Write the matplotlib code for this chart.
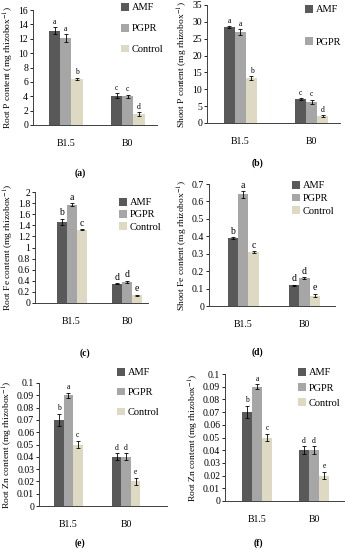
import matplotlib
matplotlib.use('Agg')
import matplotlib.pyplot as plt
from matplotlib.ticker import FuncFormatter
import numpy as np

plt.rcParams['font.family'] = ['Liberation Serif', 'DejaVu Serif']
plt.rcParams['mathtext.fontset'] = 'stix'

# data
groups = ['B1.5', 'B0']
treatments = ['AMF', 'PGPR', 'Control']
colors = ['#595959', '#a6a6a6', '#ddd9c3']

root_p = [[13.1, 4.1], [12.1, 4.0], [6.4, 1.5]]
root_p_err = [[0.5, 0.3], [0.5, 0.2], [0.2, 0.3]]
root_p_let = [['a', 'c'], ['a', 'c'], ['b', 'd']]

shoot_p = [[28.4, 7.0], [27.0, 6.2], [13.3, 2.0]]
shoot_p_err = [[0.3, 0.3], [0.8, 0.7], [0.6, 0.3]]
shoot_p_let = [['a', 'c'], ['a', 'c'], ['b', 'd']]

root_fe = [[1.46, 0.35], [1.77, 0.38], [1.32, 0.14]]
root_fe_err = [[0.06, 0.01], [0.03, 0.02], [0.01, 0.01]]
root_fe_let = [['b', 'd'], ['a', 'd'], ['c', 'e']]

shoot_fe = [[0.39, 0.12], [0.64, 0.16], [0.31, 0.06]]
shoot_fe_err = [[0.004, 0.003], [0.02, 0.005], [0.004, 0.01]]
shoot_fe_let = [['b', 'd'], ['a', 'd'], ['c', 'e']]

root_zn = [[0.07, 0.04], [0.09, 0.04], [0.05, 0.02]]
root_zn_err = [[0.005, 0.003], [0.002, 0.003], [0.003, 0.003]]
root_zn_let = [['b', 'd'], ['a', 'd'], ['c', 'e']]

W, H = 345, 550
fig = plt.figure(figsize=(W / 100, H / 100), dpi=100)


def px_axes(l, r, t, b):
    # 像素座標轉成 figure 比例
    return fig.add_axes([l / W, 1 - b / H, (r - l) / W, (b - t) / H])


def panel(box, xlim, width, vals, errs, lets, ymax, ystep, ylabel,
          tag, tag_xy, leg_xy, leg_space, leg_n=3, let_size=5.5):
    ax = px_axes(*box)
    x = np.arange(len(groups))
    bars = []
    for i in range(3):
        pos = x + (i - 1) * width
        b = ax.bar(pos, vals[i], width, color=colors[i], label=treatments[i],
                   yerr=errs[i], capsize=1.6,
                   error_kw=dict(elinewidth=0.6, capthick=0.6, ecolor='black'))
        bars.append(b)
        for p, v, e, l in zip(pos, vals[i], errs[i], lets[i]):
            ax.text(p, v + e + ymax * 0.012, l, ha='center', va='bottom',
                    fontsize=let_size)
    ax.set_xlim(*xlim)
    ax.set_ylim(0, ymax)
    ax.set_yticks(np.arange(0, ymax + ystep / 2, ystep))
    ax.yaxis.set_major_formatter(FuncFormatter(lambda v, p: f'{round(v, 4):g}'))
    ax.set_xticks(x)
    ax.set_xticklabels(groups)
    ax.tick_params(axis='x', length=0, pad=10, labelsize=7)
    ax.tick_params(axis='y', length=2, width=0.6, pad=1.5, labelsize=7)
    for s in ['top', 'right']:
        ax.spines[s].set_visible(False)
    for s in ['left', 'bottom']:
        ax.spines[s].set_linewidth(0.7)
        ax.spines[s].set_color('#404040')
    ax.set_ylabel(ylabel, fontsize=6.8, labelpad=1.5)
    ax.legend(handles=bars[:leg_n], loc='upper left',
              bbox_to_anchor=(leg_xy[0] / W, 1 - leg_xy[1] / H),
              bbox_transform=fig.transFigure, frameon=False, fontsize=7.5,
              handlelength=0.75, handleheight=0.75, handletextpad=0.3,
              labelspacing=leg_space, borderpad=0, borderaxespad=0)
    fig.text(tag_xy[0] / W, 1 - tag_xy[1] / H, tag, ha='center', va='center',
             fontsize=7, fontweight='bold')
    return ax


ylab = r'Root %s content (mg rhizobox$^{-1}$)'
ylab_s = r'Shoot %s content (mg rhizobox$^{-1}$)'

panel((33, 157, 10, 125), (-0.53, 1.47), 0.18, root_p, root_p_err, root_p_let,
      16, 2, ylab % 'P', '(a)', (80, 173), (121, 3), 1.1)
panel((207, 340, 5, 123), (-0.47, 1.4), 0.155, shoot_p, shoot_p_err, shoot_p_let,
      35, 5, ylab_s % 'P', '(b)', (257, 163), (305, 5), 2.2, leg_n=2)
panel((35, 148, 192, 303), (-0.66, 1.38), 0.18, root_fe, root_fe_err, root_fe_let,
      2, 0.2, ylab % 'Fe', '(c)', (85, 353), (119, 198), 0.25, let_size=7)
panel((209, 335, 184, 306), (-0.56, 1.5), 0.17, shoot_fe, shoot_fe_err, shoot_fe_let,
      0.7, 0.1, ylab_s % 'Fe', '(d)', (257, 352), (292, 181), 0.3, let_size=7)
panel((39, 167, 383, 506), (-0.51, 1.71), 0.165, root_zn, root_zn_err, root_zn_let,
      0.1, 0.01, ylab % 'Zn', '(e)', (80, 543), (117, 368), 1.0)
panel((225, 345, 374, 501), (-0.56, 1.54), 0.175, root_zn, root_zn_err, root_zn_let,
      0.1, 0.01, ylab % 'Zn', '(f)', (258, 543), (298, 368), 0.55)

fig.savefig('out.png', dpi=100, facecolor='white')
